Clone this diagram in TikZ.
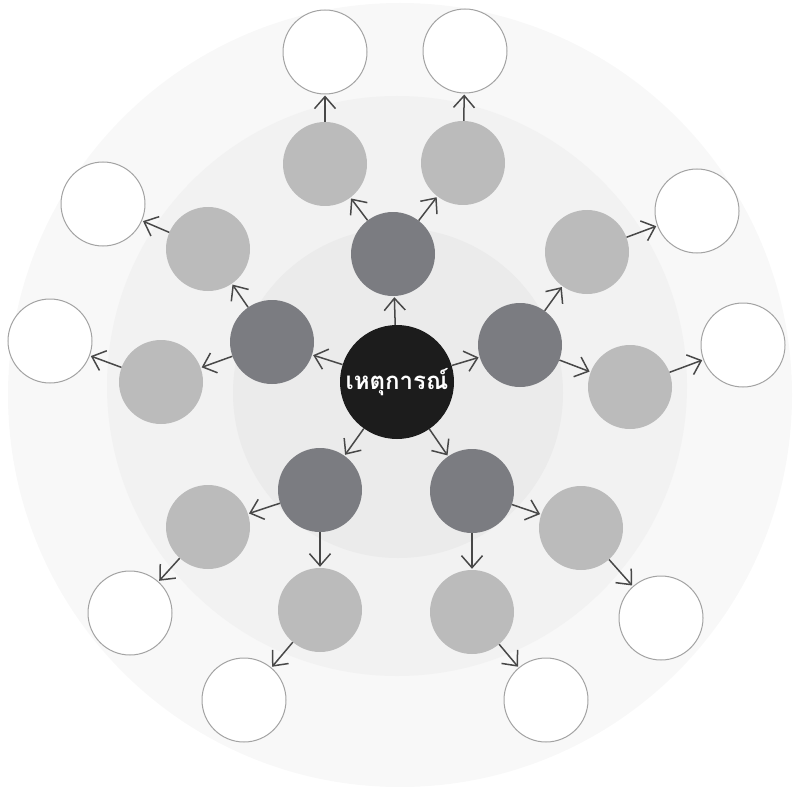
\documentclass[tikz,border=0pt]{standalone}
\usepackage{fontspec}
\newfontfamily\thaifont[Script=Thai]{Loma}
\usetikzlibrary{arrows.meta}
\definecolor{ringout}{HTML}{F8F8F8}
\definecolor{ringmid}{HTML}{F2F2F2}
\definecolor{ringin}{HTML}{EBEBEB}
\definecolor{evblack}{HTML}{1C1C1C}
\definecolor{darkgrey}{HTML}{7B7C81}
\definecolor{lightgrey}{HTML}{BBBBBB}
\definecolor{rimgrey}{HTML}{A3A3A3}
\definecolor{arrowgrey}{HTML}{484848}
\tikzset{>={Straight Barb[length=12pt,width=21pt]},
  event/.style={circle, fill=evblack, minimum size=114pt, inner sep=0pt, text=white,
    font=\thaifont\bfseries\fontsize{24}{28}\selectfont},
  causeA/.style={circle, fill=darkgrey, minimum size=84pt, inner sep=0pt},
  causeB/.style={circle, fill=lightgrey, minimum size=84pt, inner sep=0pt},
  causeC/.style={circle, draw=rimgrey, fill=white, line width=1pt, minimum size=84pt, inner sep=0pt},
  arr/.style={->, draw=arrowgrey, line width=1.5pt, shorten >=1pt}
}

\begin{document}
\begin{tikzpicture}[x=1pt, y=-1pt]
\useasboundingbox (0,0) rectangle (799,786);
% background rings
\fill[ringout] (400,395) circle[radius=392pt];
\fill[ringmid] (397,386) circle[radius=290pt];
\fill[ringin] (398,393) circle[radius=165pt];

\node[event] (event) at (397,382) {เหตุการณ์};

% first ring
\node[causeA] (a-top) at (393,254) {};
\node[causeA] (a-ul) at (272,342) {};
\node[causeA] (a-ur) at (520,345) {};
\node[causeA] (a-ll) at (320,490) {};
\node[causeA] (a-lr) at (472,491) {};

% second ring
\node[causeB] (b-tl) at (325,164) {};
\node[causeB] (b-tr) at (463,163) {};
\node[causeB] (b-ul) at (208,249) {};
\node[causeB] (b-l) at (161,382) {};
\node[causeB] (b-ur) at (587,252) {};
\node[causeB] (b-r) at (630,387) {};
\node[causeB] (b-lll) at (208,527) {};
\node[causeB] (b-lld) at (320,610) {};
\node[causeB] (b-lrr) at (581,528) {};
\node[causeB] (b-lrd) at (472,612) {};

% outer ring
\node[causeC] (c-tl) at (325,52) {};
\node[causeC] (c-tr) at (465,51) {};
\node[causeC] (c-ul) at (103,204) {};
\node[causeC] (c-l) at (50,341) {};
\node[causeC] (c-ur) at (697,211) {};
\node[causeC] (c-r) at (743,345) {};
\node[causeC] (c-lll) at (130,613) {};
\node[causeC] (c-lld) at (244,700) {};
\node[causeC] (c-lrr) at (661,618) {};
\node[causeC] (c-lrd) at (546,700) {};

\path
(event) edge[arr] (a-top)
(event) edge[arr] (a-ul)
(event) edge[arr] (a-ur)
(event) edge[arr] (a-ll)
(event) edge[arr] (a-lr)
(a-top) edge[arr] (b-tl)
(a-top) edge[arr] (b-tr)
(a-ul) edge[arr] (b-ul)
(a-ul) edge[arr] (b-l)
(a-ur) edge[arr] (b-ur)
(a-ur) edge[arr] (b-r)
(a-ll) edge[arr] (b-lll)
(a-ll) edge[arr] (b-lld)
(a-lr) edge[arr] (b-lrr)
(a-lr) edge[arr] (b-lrd)
(b-tl) edge[arr] (c-tl)
(b-tr) edge[arr] (c-tr)
(b-ul) edge[arr] (c-ul)
(b-l) edge[arr] (c-l)
(b-ur) edge[arr] (c-ur)
(b-r) edge[arr] (c-r)
(b-lll) edge[arr] (c-lll)
(b-lld) edge[arr] (c-lld)
(b-lrr) edge[arr] (c-lrr)
(b-lrd) edge[arr] (c-lrd);
\end{tikzpicture}
\end{document}
